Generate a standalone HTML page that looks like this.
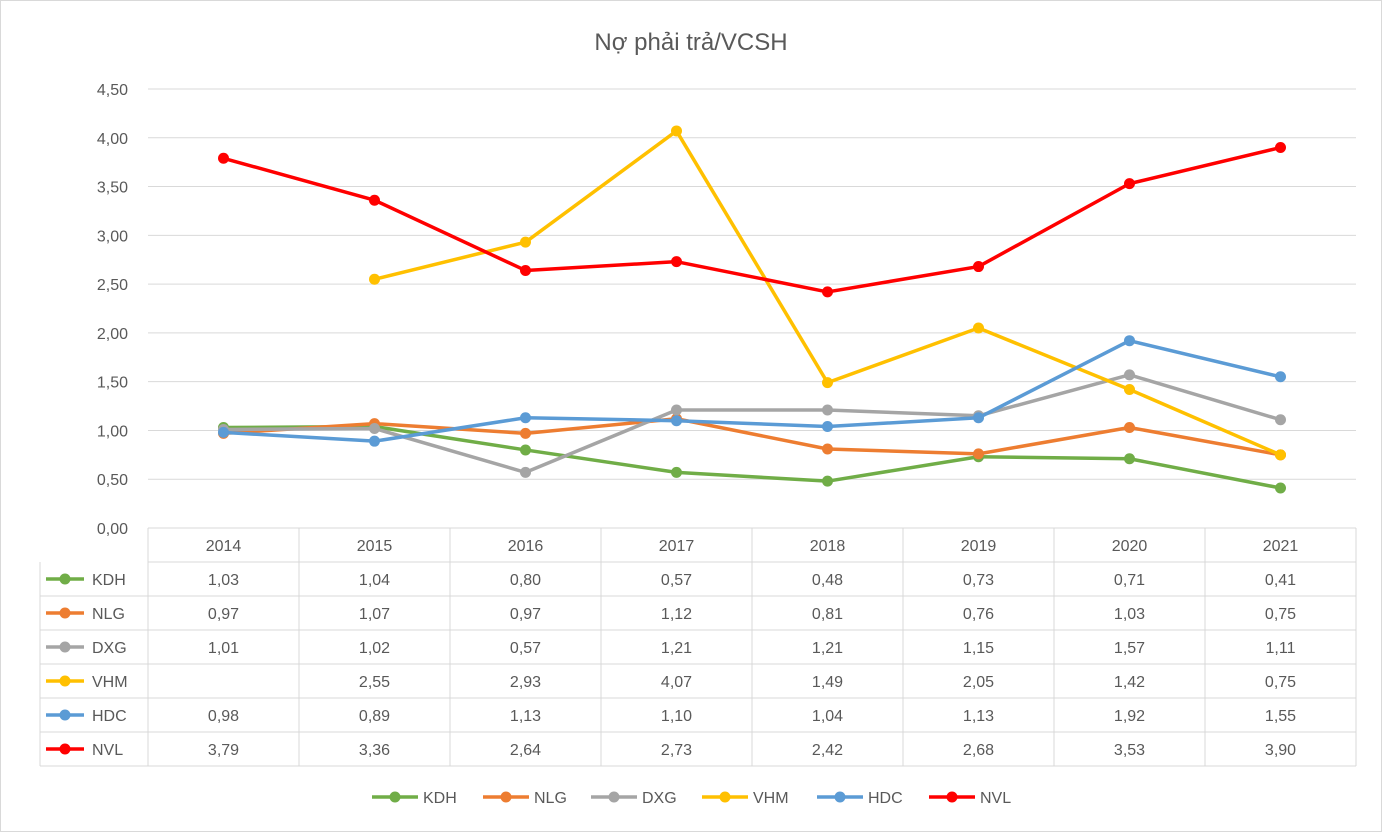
<!DOCTYPE html>
<html><head><meta charset="utf-8">
<style>
html,body{margin:0;padding:0;background:#fff;}
svg{display:block;font-family:"Liberation Sans",Arial,sans-serif;}
</style></head>
<body>
<svg id="chart" width="1382" height="832" viewBox="0 0 1382 832">
<rect x="0.5" y="0.5" width="1381" height="831" fill="#fff" stroke="#d9d9d9"/>
<text x="691" y="50" text-anchor="middle" font-size="24" fill="#595959">Nợ phải trả/VCSH</text>
<g id="grid"></g><g id="series"></g><g id="table"></g><g id="legend"></g>
</svg>
<script>
const categories=["2014","2015","2016","2017","2018","2019","2020","2021"];
const seriesNames=["KDH","NLG","DXG","VHM","HDC","NVL"];
const seriesColors=["#70AD47","#ED7D31","#A5A5A5","#FFC000","#5B9BD5","#FF0000"];
const kdh=[1.03,1.04,0.80,0.57,0.48,0.73,0.71,0.41];
const nlg=[0.97,1.07,0.97,1.12,0.81,0.76,1.03,0.75];
const dxg=[1.01,1.02,0.57,1.21,1.21,1.15,1.57,1.11];
const vhm=[null,2.55,2.93,4.07,1.49,2.05,1.42,0.75];
const hdc=[0.98,0.89,1.13,1.10,1.04,1.13,1.92,1.55];
const nvl=[3.79,3.36,2.64,2.73,2.42,2.68,3.53,3.90];
const yTicks=[0,0.5,1,1.5,2,2.5,3,3.5,4,4.5];
const allSeries=[kdh,nlg,dxg,vhm,hdc,nvl];

const NS="http://www.w3.org/2000/svg";
const x0=148,colW=151,y0=528,yTop=89,yMax=4.5;
const xs=i=>x0+colW*(i+0.5);
const ys=v=>y0-(v/yMax)*(y0-yTop);
const fmt=v=>v.toFixed(2).replace('.',',');
function mk(tag,attrs,parent){const e=document.createElementNS(NS,tag);for(const k in attrs)e.setAttribute(k,attrs[k]);parent.appendChild(e);return e;}
const grid=document.getElementById('grid'),ser=document.getElementById('series'),tab=document.getElementById('table'),leg=document.getElementById('legend');
const right=x0+colW*categories.length;

yTicks.forEach(t=>{
  const l=mk('line',{x1:x0,x2:right,y1:ys(t),y2:ys(t),stroke:'#d9d9d9','stroke-width':1},grid);
  
  
  const tx=mk('text',{x:128,y:ys(t)+6,'text-anchor':'end','font-size':16,fill:'#595959'},grid);
  tx.textContent=fmt(t);
  
  
});

allSeries.forEach((s,si)=>{
  const g=mk('g',{},ser);
  
  
  let d='';
  s.forEach((v,i)=>{if(v==null)return;d+=(d?'L':'M')+xs(i)+','+ys(v);});
  mk('path',{d:d,fill:'none',stroke:seriesColors[si],'stroke-width':3.5,'stroke-linejoin':'round'},g);
  s.forEach((v,i)=>{if(v==null)return;
    const c=mk('circle',{cx:xs(i),cy:ys(v),r:5.5,fill:seriesColors[si]},g);
    
    
  });
});

// table
const rowH=34, tTop=528;
const tb=(x1,y1,x2,y2)=>mk('line',{x1,y1,x2,y2,stroke:'#d9d9d9','stroke-width':1},tab);
for(let r=0;r<=seriesNames.length;r++){tb(r==0?x0:40,tTop+rowH*(r+1),right,tTop+rowH*(r+1));}
tb(40,tTop+rowH,40,tTop+rowH*7);
for(let c=0;c<=categories.length;c++)tb(x0+colW*c,tTop,x0+colW*c,tTop+rowH*7);
categories.forEach((c,i)=>{
  const t=mk('text',{x:xs(i),y:tTop+23,'text-anchor':'middle','font-size':16,fill:'#595959'},tab);
  t.textContent=c;
  
  
});
allSeries.forEach((s,si)=>{
  const yy=tTop+rowH*(si+1);
  mk('line',{x1:46,x2:84,y1:yy+17,y2:yy+17,stroke:seriesColors[si],'stroke-width':3.5},tab);
  mk('circle',{cx:65,cy:yy+17,r:5.5,fill:seriesColors[si]},tab);
  const n=mk('text',{x:92,y:yy+23,'font-size':16,fill:'#595959'},tab);
  n.textContent=seriesNames[si];
  
  
  s.forEach((v,i)=>{if(v==null)return;
    const t=mk('text',{x:xs(i),y:yy+23,'text-anchor':'middle','font-size':16,fill:'#595959'},tab);
    t.textContent=fmt(v);
    
    
  });
});

// legend
const legX=[372,483,591,702,817,929];
seriesNames.forEach((n,si)=>{
  const g=mk('g',{},leg);
  
  
  const lx=legX[si];
  mk('line',{x1:lx,x2:lx+46,y1:797,y2:797,stroke:seriesColors[si],'stroke-width':3.5},g);
  mk('circle',{cx:lx+23,cy:797,r:5.5,fill:seriesColors[si]},g);
  const t=mk('text',{x:lx+51,y:803,'font-size':16,fill:'#595959'},g);
  t.textContent=n;
});
</script>
</body></html>
